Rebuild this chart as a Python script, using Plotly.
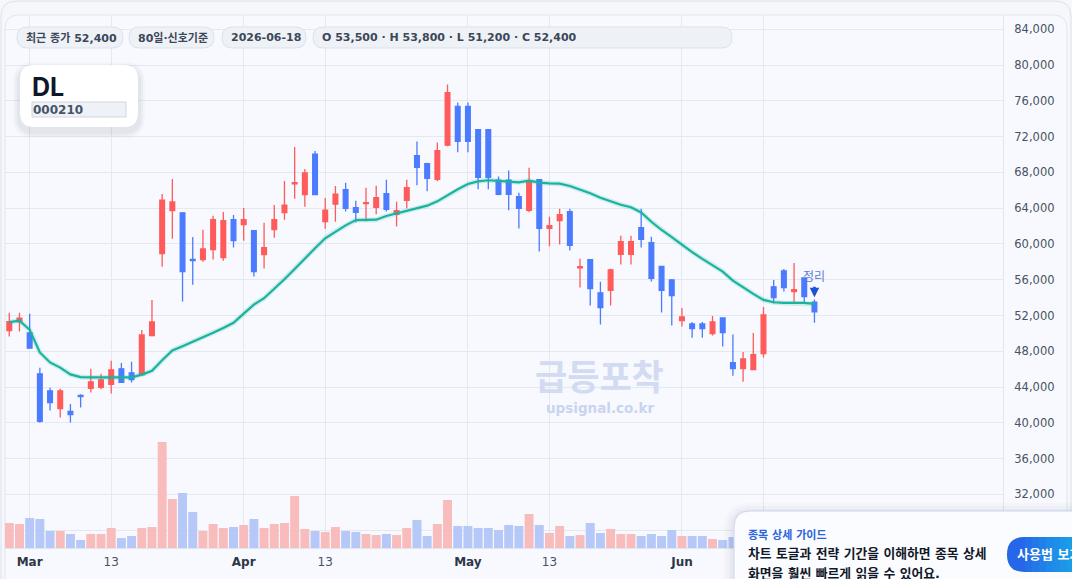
import plotly.graph_objects as go
import pandas as pd

# ---------------- data ----------------
dates = [d.strftime("%Y-%m-%d") for d in pd.bdate_range("2026-02-26", "2026-06-18")
         if d.strftime("%Y-%m-%d") != "2026-03-02"]

opens = [50300, 51300, 50050, 45480, 43580, 41600, 41270, 43060, 43840, 43950,
         44290, 46030, 45590, 45360, 49760, 58920, 63720, 63460, 58280, 58250,
         59360, 58470, 62710, 62160, 61490, 58800, 61600, 63500, 66730, 65510,
         70050, 62490, 64460, 66070, 64050, 64500, 64090, 65620, 63310, 64880,
         69880, 68980, 67230, 71040, 75370, 75370, 72790, 72790, 67120, 67120,
         65290, 63760, 67190, 61740, 62600, 63610, 57340, 58230, 54530, 54800,
         58830, 58830, 61820, 60140, 57500, 55980, 51430, 51050, 51050, 49970,
         51730, 46730, 46050, 45940, 47730, 55200, 56990, 54670, 56200, 53500]
highs = [52300, 52300, 52180, 46150, 43910, 43800, 42090, 43200, 46030, 45480,
         46930, 46700, 46820, 50390, 53740, 65580, 67260, 63570, 60780, 61600,
         63160, 63570, 63230, 64020, 61520, 62380, 64350, 67030, 70830, 68370,
         70380, 65130, 66470, 66850, 64840, 66290, 66520, 67190, 64730, 67190,
         71450, 69090, 71330, 77830, 75810, 75810, 72800, 72800, 67530, 68200,
         65730, 68530, 67200, 63050, 63940, 63940, 58340, 58250, 55770, 57220,
         60920, 60920, 63940, 60810, 57500, 56090, 52840, 51280, 51280, 51950,
         51750, 49860, 47920, 50050, 52960, 55980, 57210, 57880, 56200, 53800]
lows = [49650, 50200, 48300, 40000, 41380, 40600, 40040, 41720, 43390, 43760,
        43280, 44450, 44510, 45300, 49650, 57460, 60590, 53560, 55450, 58020,
        58250, 58130, 59590, 60370, 56350, 57240, 60700, 62710, 65060, 64170,
        65450, 61710, 62490, 63640, 62410, 62520, 63310, 63640, 61960, 63980,
        66560, 65880, 67000, 70920, 70250, 70250, 66110, 66110, 65440, 63760,
        61740, 63530, 59160, 59730, 59950, 59280, 55130, 53120, 50990, 53120,
        57710, 57710, 59610, 55800, 52330, 50870, 50760, 49520, 49520, 49750,
        48520, 45270, 44600, 45900, 47290, 53330, 54670, 53440, 53440, 51200]
closes = [51300, 51700, 48340, 40150, 42270, 43580, 40930, 42940, 44580, 44810,
          45920, 44510, 44840, 49830, 51280, 64910, 64690, 56900, 58130, 59440,
          62710, 62600, 60370, 62710, 56900, 59590, 62710, 64350, 66850, 67930,
          65510, 63790, 65580, 63980, 63530, 64610, 65170, 63870, 63720, 66290,
          68570, 67340, 70440, 76930, 71480, 71480, 67450, 67450, 65550, 65550,
          63980, 66890, 61740, 62040, 63270, 59840, 57450, 55020, 52890, 57110,
          60250, 60250, 60510, 56140, 54800, 54230, 51840, 50530, 50530, 51280,
          50080, 46050, 47140, 47620, 52060, 54000, 55120, 54900, 54110, 52400]
ma20 = [51250, 51430, 50400, 47870, 46750, 46170, 45410, 45110, 45070, 45070,
        45070, 45070, 45090, 45390, 45820, 46990, 48090, 48570, 49040, 49540,
        50060, 50590, 51180, 52210, 53220, 53930, 54970, 56050, 57200, 58400,
        59510, 60630, 61400, 62080, 62670, 62670, 62710, 63120, 63420, 63720,
        63980, 64280, 64760, 65440, 66110, 66700, 67000, 67120, 67040, 66970,
        66890, 67080, 66850, 66780, 66740, 66480, 66110, 65660, 65170, 64760,
        64380, 64100, 63520, 62480, 61560, 60760, 59900, 59080, 58330, 57660,
        56910, 55900, 55120, 54410, 53740, 53480, 53400, 53400, 53400, 53290]
volume_k = [259, 248, 310, 300, 176, 176, 145, 83, 145, 145,
            207, 103, 124, 207, 217, 1097, 507, 569, 372, 176,
            248, 207, 217, 238, 300, 207, 248, 259, 538, 197,
            176, 166, 217, 176, 166, 145, 134, 145, 134, 207,
            290, 124, 248, 497, 228, 228, 207, 207, 186, 238,
            228, 352, 238, 155, 228, 124, 134, 259, 155, 197,
            145, 145, 124, 145, 124, 186, 124, 124, 124, 93,
            83, 114, 120, 130, 260, 180, 160, 150, 140, 170]

tick_dates = ["2026-03-03", "2026-03-13", "2026-04-01", "2026-04-13",
              "2026-05-01", "2026-05-13", "2026-06-01", "2026-06-11"]
tick_labels = ["Mar", "13", "Apr", "13", "May", "13", "Jun", "11"]
month_labels = {"Mar", "Apr", "May", "Jun"}
price_ticks = list(range(28000, 84001, 4000))

info_pills = ["최근 종가 52,400", "80일·신호기준", "2026-06-18",
              "O 53,500 · H 53,800 · L 51,200 · C 52,400"]
stock_name = "DL"
stock_code = "000210"
signal_text = "정리"
guide_title = "종목 상세 가이드"
guide_lines = ["차트 토글과 전략 기간을 이해하면 종목 상세", "화면을 훨씬 빠르게 읽을 수 있어요."]
guide_button = "사용법 보기"

# ---------------- style ----------------
UP, DOWN = "#ff5b5b", "#4b7bff"
UP_VOL, DOWN_VOL = "#f8bcbc", "#b5c8f8"
MA_COLOR = "#19b39e"
GRID = "#e4e8ef"
FONT = "DejaVu Sans, Noto Sans CJK KR, sans-serif"

W, H = 1072, 579
ML, MR, MT, MB = 5, 69, 15, 31
PW, PH = W - ML - MR, H - MT - MB


def fx(x):
    return (x - ML) / PW


def fy(y):
    return (H - MB - y) / PH


def P(x, y):
    return f"{fx(x):.5f},{fy(y):.5f}"


def rrect(x0, y0, x1, y1, r):
    return (f"M{P(x0 + r, y0)} L{P(x1 - r, y0)} Q{P(x1, y0)} {P(x1, y0 + r)} "
            f"L{P(x1, y1 - r)} Q{P(x1, y1)} {P(x1 - r, y1)} L{P(x0 + r, y1)} "
            f"Q{P(x0, y1)} {P(x0, y1 - r)} L{P(x0, y0 + r)} Q{P(x0, y0)} {P(x0 + r, y0)} Z")


shapes = []


def add_rr(x0, y0, x1, y1, r, fill, line=None, lw=1, layer="above"):
    shapes.append(dict(type="path", path=rrect(x0, y0, x1, y1, r), xref="paper", yref="paper",
                       fillcolor=fill, line=dict(color=line or "rgba(0,0,0,0)", width=lw if line else 0),
                       layer=layer))


annotations = []


def add_text(x, y, text, size, color, anchor="left", family=FONT, weight=None):
    f = dict(size=size, color=color, family=family)
    if weight:
        f["weight"] = weight
    annotations.append(dict(x=fx(x), y=fy(y), xref="paper", yref="paper", text=text,
                            showarrow=False, xanchor=anchor, yanchor="middle",
                            font=f, borderpad=0, borderwidth=0))


# background card & panel
add_rr(1, 1, 1071, 660, 16, "rgba(0,0,0,0)", "#dce2eb", 1, layer="below")
add_rr(5, 15, 1067, 660, 14, "#f7f9fe", "#e1e6ee", 1, layer="below")

# info pills
pill_boxes = [(17, 123), (129, 214), (222, 306), (313, 732)]
for (x0, x1), txt in zip(pill_boxes, info_pills):
    add_rr(x0, 27, x1, 48, 10.5, "#eef2f7", "#dce2ea", 1)
    add_text(x0 + 9, 37.6, f"<b>{txt}</b>", 11, "#3c4757")

# stock card
for i, a in enumerate([0.025, 0.03, 0.035]):
    e = 7 - 2 * i
    add_rr(20 - e, 65 - e + 4, 138 + e, 127 + e + 4, 14 + e, f"rgba(30,41,59,{a})")
add_rr(20, 65, 138, 127, 14, "#ffffff")
add_text(31.5, 86.8, f"<b>{stock_name}</b>", 25, "#0f172a", family="Inter, Noto Sans, sans-serif", weight=800)
shapes.append(dict(type="rect", xref="paper", yref="paper", x0=fx(32), x1=fx(126), y0=fy(102), y1=fy(117),
                   fillcolor="#eef1f5", line=dict(color="#cfd6df", width=1), layer="above"))
add_text(33, 109.8, f"<b>{stock_code}</b>", 12, "#475467")

# watermark
add_text(599, 377.5, "<b>급등포착</b>", 35, "#d2dbf2", anchor="center")
add_text(599.5, 407.5, "<b>upsignal.co.kr</b>", 13.5, "#c9d4ef", anchor="center")

# guide box
for i, a in enumerate([0.02, 0.025, 0.03]):
    e = 10 - 3 * i
    add_rr(734 - e, 511 - e + 2, 1120 + e, 660, 16 + e, f"rgba(30,41,59,{a})")
add_rr(734, 511, 1120, 660, 16, "#fafcff", "#c8d6f2", 1)
add_rr(1007, 537, 1130, 572, 17.5, "#2567e8")
strip_colors = ["#2470e8", "#2378e8", "#2180e8", "#2088e8", "#1e8fe8", "#1d96e7", "#1b9ce7"]
sx = 1025
for c in strip_colors:
    shapes.append(dict(type="rect", xref="paper", yref="paper", x0=fx(sx), x1=fx(sx + 7.5),
                       y0=fy(572), y1=fy(537), fillcolor=c, line=dict(width=0), layer="above"))
    sx += 7
add_text(748, 535, f"<b>{guide_title}</b>", 11, "#2b63e0")
add_text(748, 553, f"<b>{guide_lines[0]}</b>", 12.8, "#111827")
add_text(748, 573.5, f"<b>{guide_lines[1]}</b>", 12.8, "#111827")
add_text(1017, 554.5, f"<b>{guide_button}</b>", 13, "#ffffff")

# signal annotation
annotations.append(dict(x=dates[-1], y=54030, xref="x", yref="y", text=signal_text,
                        showarrow=True, ax=0, ay=-20, arrowhead=2, arrowsize=0.73, arrowwidth=2.6,
                        arrowcolor="#1e50d8", standoff=0, startstandoff=1,
                        font=dict(size=12, color="#5d7cd6", family=FONT)))

# ---------------- traces ----------------
vol_colors = [UP_VOL if c > o else DOWN_VOL for o, c in zip(opens, closes)]

fig = go.Figure()
fig.add_trace(go.Bar(x=dates, y=volume_k, marker=dict(color=vol_colors, line=dict(width=0)),
                     width=0.88, yaxis="y2", hoverinfo="skip"))
fig.add_trace(go.Candlestick(x=dates, open=opens, high=highs, low=lows, close=closes,
                             increasing=dict(line=dict(color=UP, width=1.3), fillcolor=UP),
                             decreasing=dict(line=dict(color=DOWN, width=1.3), fillcolor=DOWN),
                             whiskerwidth=0))
fig.add_trace(go.Scatter(x=dates, y=ma20, mode="lines",
                         line=dict(color="rgba(25,179,158,0.18)", width=5), hoverinfo="skip"))
fig.add_trace(go.Scatter(x=dates, y=ma20, mode="lines", line=dict(color=MA_COLOR, width=2.2)))

tick_text = [f"<b><span style='color:#2d3748'>{t}</span></b>" if t in month_labels else t
             for t in tick_labels]

fig.update_layout(
    width=W, height=H, margin=dict(l=ML, r=MR, t=MT, b=MB),
    paper_bgcolor="#f5f7fb", plot_bgcolor="rgba(0,0,0,0)",
    showlegend=False, boxgap=0.34,
    font=dict(family=FONT, size=12, color="#4a5261"),
    xaxis=dict(type="category", range=[-0.42, 97.5], tickvals=tick_dates, ticktext=tick_text,
               showgrid=True, gridcolor=GRID, gridwidth=1, showline=True, linecolor="#e1e6ee",
               ticks="", ticklabelstandoff=3, rangeslider=dict(visible=False),
               tickfont=dict(size=12, color="#4a5261")),
    yaxis=dict(side="right", range=[26000, 85600], tickvals=price_ticks,
               ticktext=[f"{v:,}" for v in price_ticks], showgrid=True, gridcolor=GRID,
               gridwidth=1, zeroline=False, showline=True, linecolor="#e1e6ee", ticks="",
               ticklabelstandoff=8, tickfont=dict(size=11.5, color="#4a5261")),
    yaxis2=dict(overlaying="y", range=[0, 5516], visible=False),
    shapes=shapes, annotations=annotations,
)

fig.write_html("out.html", config={"displayModeBar": False})
